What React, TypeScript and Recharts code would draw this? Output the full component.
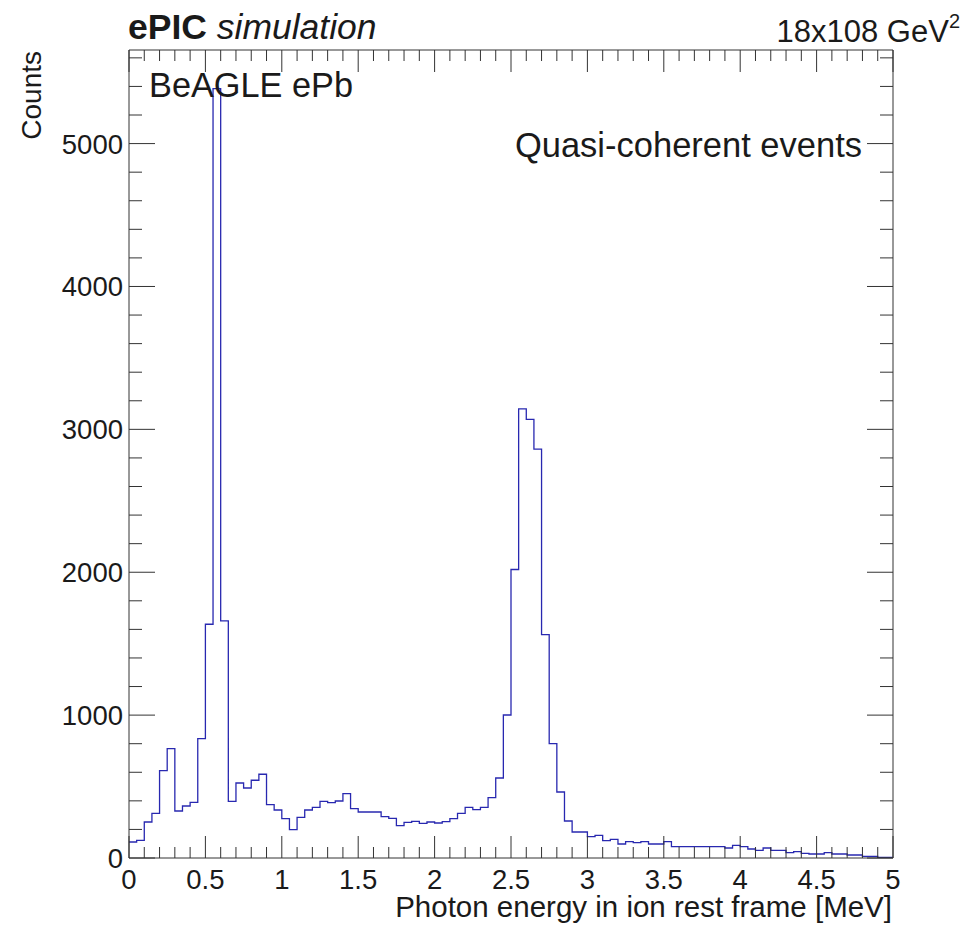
import React from 'react';
import { LineChart, Line, XAxis, YAxis } from 'recharts';

// Histogram: 100 bins of 0.05 MeV between 0 and 5 MeV
const BIN_WIDTH = 0.05;
const COUNTS = [
  112, 124, 252, 313, 611, 765, 329, 364, 390, 835,
  1636, 5385, 1660, 397, 525, 490, 544, 586, 373, 336,
  275, 198, 285, 336, 355, 397, 387, 399, 450, 345,
  322, 322, 322, 289, 278, 226, 250, 257, 243, 252,
  245, 254, 275, 313, 355, 338, 355, 422, 560, 1001,
  2019, 3144, 3070, 2862, 1564, 800, 462, 259, 182, 182,
  149, 159, 121, 131, 98, 114, 107, 114, 98, 98,
  114, 79, 79, 79, 79, 79, 79, 79, 70, 89,
  79, 63, 54, 70, 54, 54, 37, 44, 33, 28,
  28, 37, 28, 28, 21, 21, 12, 12, 5, 5,
];

const X_MAJOR = [0, 0.5, 1, 1.5, 2, 2.5, 3, 3.5, 4, 4.5, 5];
const X_MINOR = [
  0.1, 0.2, 0.3, 0.4, 0.6, 0.7, 0.8, 0.9, 1.1, 1.2, 1.3, 1.4, 1.6, 1.7, 1.8, 1.9,
  2.1, 2.2, 2.3, 2.4, 2.6, 2.7, 2.8, 2.9, 3.1, 3.2, 3.3, 3.4, 3.6, 3.7, 3.8, 3.9,
  4.1, 4.2, 4.3, 4.4, 4.6, 4.7, 4.8, 4.9,
];
const Y_MAJOR = [0, 1000, 2000, 3000, 4000, 5000];
const Y_MINOR = [
  200, 400, 600, 800, 1200, 1400, 1600, 1800, 2200, 2400, 2600, 2800,
  3200, 3400, 3600, 3800, 4200, 4400, 4600, 4800, 5200, 5400, 5600,
];
const Y_MAX = 5655;

const X_TICKS = [...X_MAJOR, ...X_MINOR].sort((a, b) => a - b);
const Y_TICKS = [...Y_MAJOR, ...Y_MINOR].sort((a, b) => a - b);

// step points at the low edge of each bin, plus the closing edge
const data = COUNTS.map((c, i) => ({ x: i * BIN_WIDTH, counts: c }));
data.push({ x: COUNTS.length * BIN_WIDTH, counts: COUNTS[COUNTS.length - 1] });

const W = 966;
const H = 926;
const FONT = '"Liberation Sans", Arial, Helvetica, sans-serif';
const INK = '#1a1a1a';
const FRAME = '#333333';
const HIST = '#2828b0';
const TICK_FS = 27.5;

const isMajorX = (v: number) => X_MAJOR.includes(v);
const isMajorY = (v: number) => Y_MAJOR.includes(v);

const BottomTick = (props: any) => {
  const { x, y, payload } = props;
  const major = isMajorX(payload.value);
  return (
    <g>
      <line x1={x} x2={x} y1={y} y2={y - (major ? 22 : 11)} stroke={FRAME} strokeWidth={1} />
      {major && (
        <text x={x} y={y + 31} textAnchor="middle" fontSize={TICK_FS} fontFamily={FONT} fill={INK}>
          {payload.value}
        </text>
      )}
    </g>
  );
};

const TopTick = (props: any) => {
  const { x, y, payload } = props;
  const major = isMajorX(payload.value);
  return <line x1={x} x2={x} y1={y} y2={y + (major ? 22 : 11)} stroke={FRAME} strokeWidth={1} />;
};

const LeftTick = (props: any) => {
  const { x, y, payload } = props;
  const major = isMajorY(payload.value);
  return (
    <g>
      <line x1={x} x2={x + (major ? 26 : 13)} y1={y} y2={y} stroke={FRAME} strokeWidth={1} />
      {major && (
        <text x={x - 6} y={y + 10} textAnchor="end" fontSize={TICK_FS} fontFamily={FONT} fill={INK}>
          {payload.value}
        </text>
      )}
    </g>
  );
};

const RightTick = (props: any) => {
  const { x, y, payload } = props;
  const major = isMajorY(payload.value);
  return <line x1={x} x2={x - (major ? 26 : 13)} y1={y} y2={y} stroke={FRAME} strokeWidth={1} />;
};

export default function App() {
  return (
    <div style={{ position: 'absolute', left: 0, top: 0, width: W, height: H, background: '#fff' }}>
      <LineChart
        width={W}
        height={H}
        data={data}
        margin={{ top: 49, right: 72, bottom: 67, left: 128 }}
      >
        <XAxis
          xAxisId="bottom"
          dataKey="x"
          type="number"
          domain={[0, 5]}
          ticks={X_TICKS}
          interval={0}
          height={1}
          tickSize={0}
          tickMargin={0}
          tick={<BottomTick />}
          axisLine={{ stroke: FRAME, strokeWidth: 1 }}
          allowDataOverflow
        />
        <XAxis
          xAxisId="top"
          orientation="top"
          dataKey="x"
          type="number"
          domain={[0, 5]}
          ticks={X_TICKS}
          interval={0}
          height={1}
          tickSize={0}
          tickMargin={0}
          tick={<TopTick />}
          axisLine={{ stroke: FRAME, strokeWidth: 1 }}
          allowDataOverflow
        />
        <YAxis
          yAxisId="left"
          type="number"
          domain={[0, Y_MAX]}
          ticks={Y_TICKS}
          interval={0}
          width={1}
          tickSize={0}
          tickMargin={0}
          tick={<LeftTick />}
          axisLine={{ stroke: FRAME, strokeWidth: 1 }}
          allowDataOverflow
        />
        <YAxis
          yAxisId="right"
          orientation="right"
          type="number"
          domain={[0, Y_MAX]}
          ticks={Y_TICKS}
          interval={0}
          width={1}
          tickSize={0}
          tickMargin={0}
          tick={<RightTick />}
          axisLine={{ stroke: FRAME, strokeWidth: 1 }}
          allowDataOverflow
        />
        <Line
          xAxisId="bottom"
          yAxisId="left"
          dataKey="counts"
          type="stepAfter"
          stroke={HIST}
          strokeWidth={1.3}
          dot={false}
          activeDot={false}
          isAnimationActive={false}
        />
        {/* same histogram on the mirrored axes, kept invisible so those axes are laid out */}
        <Line
          xAxisId="top"
          yAxisId="right"
          dataKey="counts"
          type="stepAfter"
          stroke="none"
          dot={false}
          activeDot={false}
          legendType="none"
          isAnimationActive={false}
        />
      </LineChart>

      <svg
        width={W}
        height={H}
        style={{ position: 'absolute', left: 0, top: 0, pointerEvents: 'none' }}
        fontFamily={FONT}
        fill={INK}
      >
        <text x={128} y={39} fontSize={35.5}>
          <tspan fontWeight="bold">ePIC</tspan>
          <tspan fontStyle="italic"> simulation</tspan>
        </text>
        <text x={960} y={42} fontSize={31} textAnchor="end">
          18x108 GeV<tspan fontSize={20} dy={-14}>2</tspan>
        </text>
        <text x={149} y={97} fontSize={34.3}>BeAGLE ePb</text>
        <text x={862} y={157} fontSize={34.5} textAnchor="end">Quasi-coherent events</text>
        <text x={892} y={917} fontSize={29.5} textAnchor="end">
          Photon energy in ion rest frame [MeV]
        </text>
        <text transform="translate(41, 51) rotate(-90)" fontSize={28} textAnchor="end">
          Counts
        </text>
      </svg>
    </div>
  );
}
